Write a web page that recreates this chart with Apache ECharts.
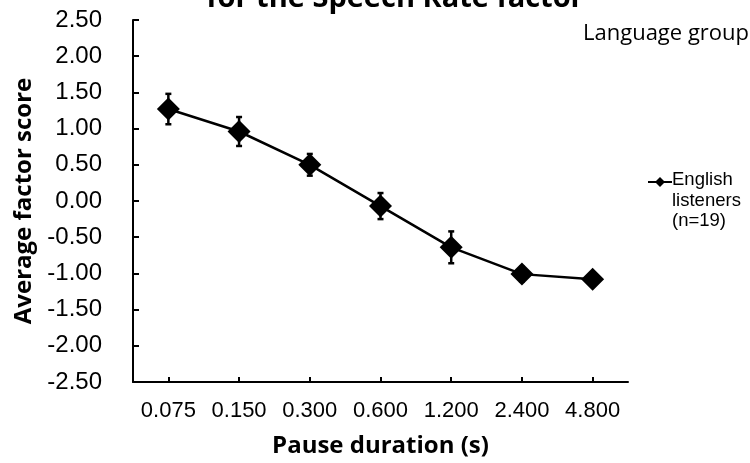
<!DOCTYPE html>
<html>
<head>
<meta charset="utf-8">
<script src="https://cdn.jsdelivr.net/npm/echarts@6/dist/echarts.min.js"></script>
<style>html,body{margin:0;padding:0;background:#fff;}#c{width:750px;height:463px;}</style>
</head>
<body>
<div id="c"></div>
<script>
var categories = ['0.075', '0.150', '0.300', '0.600', '1.200', '2.400', '4.800'];
var meanScores = [1.27, 0.96, 0.50, -0.07, -0.64, -1.01, -1.08];
var errors = [0.21, 0.20, 0.15, 0.18, 0.22, 0.10, 0.07];
var seriesName = 'English listeners (n=19)';
var legendLines = ['English', 'listeners', '(n=19)'];
var yTicks = [-2.5, 2.5, 0.5];

var SANS = '"Liberation Sans", Arial, sans-serif';
var chart = echarts.init(document.getElementById('c'), null, {renderer: 'canvas'});
var errData = categories.map(function (c, i) { return [i, meanScores[i] - errors[i], meanScores[i] + errors[i]]; });

var option = {
  animation: false,
  backgroundColor: '#ffffff',
  title: {
    text: 'for the Speech Rate factor',
    left: 390, textAlign: 'center', top: -21,
    textStyle: {fontFamily: 'Open Sans', fontWeight: 'bold', fontSize: 29, color: '#000'}
  },
  grid: {left: 133, right: 122, top: 20, bottom: 77, containLabel: false},
  xAxis: {
    type: 'category', data: categories, boundaryGap: true,
    name: 'Pause duration (s)', nameLocation: 'middle', nameGap: 52,
    nameTextStyle: {fontFamily: 'Open Sans', fontWeight: 'bold', fontSize: 24, color: '#000'},
    axisLine: {onZero: false, lineStyle: {color: '#000', width: 2}},
    axisTick: {show: true, inside: true, alignWithLabel: true, interval: 0, length: 5, lineStyle: {color: '#000', width: 2}},
    axisLabel: {fontFamily: SANS, fontSize: 22, color: '#000', margin: 18, interval: 0},
    splitLine: {show: false}
  },
  yAxis: {
    type: 'value', min: yTicks[0], max: yTicks[1], interval: yTicks[2],
    name: 'Average factor score', nameLocation: 'middle', nameGap: 93,
    nameTextStyle: {fontFamily: 'Open Sans', fontWeight: 'bold', fontSize: 24, color: '#000'},
    axisLine: {show: true, lineStyle: {color: '#000', width: 2}},
    axisTick: {show: true, inside: true, length: 6, lineStyle: {color: '#000', width: 2}},
    axisLabel: {fontFamily: SANS, fontSize: 24, color: '#000', margin: 31,
      formatter: function (v) { return v.toFixed(2); }},
    splitLine: {show: false}
  },
  graphic: [
    {type: 'text', left: 583, top: 23, style: {text: 'Language group', fontFamily: 'Open Sans', fontSize: 22, fill: '#000'}},
    {type: 'line', shape: {x1: 648, y1: 182, x2: 672, y2: 182}, style: {stroke: '#000', lineWidth: 2}},
    {type: 'polygon', shape: {points: [[660, 177], [665, 182], [660, 187], [655, 182]]}, style: {fill: '#000'}},
    {type: 'text', left: 672, top: 170, style: {text: legendLines.join('\n'), fontFamily: SANS, fontSize: 18.5, lineHeight: 20.5, fill: '#000'}}
  ],
  series: [
    {
      name: seriesName, type: 'line', data: meanScores,
      symbol: 'diamond', symbolSize: [23, 23],
      lineStyle: {color: '#000', width: 2.5},
      itemStyle: {color: '#000'},
      z: 3
    },
    {
      type: 'custom', data: errData, z: 2,
      renderItem: function (params, api) {
        var x = api.value(0);
        var lo = api.coord([x, api.value(1)]);
        var hi = api.coord([x, api.value(2)]);
        var cw = 3;
        var st = {stroke: '#000', lineWidth: 2.5};
        return {type: 'group', children: [
          {type: 'line', shape: {x1: lo[0], y1: lo[1], x2: hi[0], y2: hi[1]}, style: st},
          {type: 'line', shape: {x1: lo[0] - cw, y1: lo[1], x2: lo[0] + cw, y2: lo[1]}, style: st},
          {type: 'line', shape: {x1: hi[0] - cw, y1: hi[1], x2: hi[0] + cw, y2: hi[1]}, style: st}
        ]};
      }
    }
  ]
};
chart.setOption(option);
</script>
</body>
</html>
